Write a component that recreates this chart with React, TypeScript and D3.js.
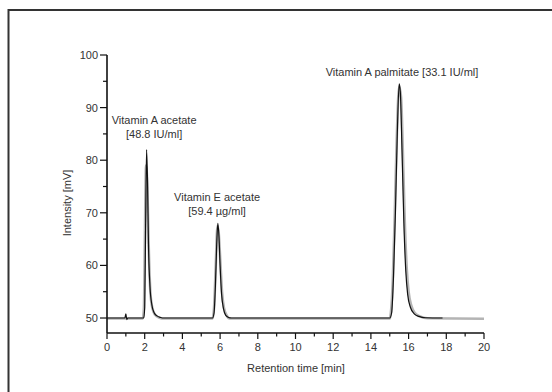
import React from "react";
import * as d3 from "d3";

// Chromatogram trace 1 (black): retention time [min] and intensity [mV]
const blackTime = [0, 0.95, 1.0, 1.05, 1.1, 1.95, 2.0, 2.05, 2.1, 2.15, 2.2, 2.28, 2.38, 2.5, 2.65, 2.85, 3.0,
  5.6, 5.68, 5.75, 5.82, 5.88, 5.94, 6.0, 6.08, 6.18, 6.3, 6.45, 6.6,
  15.0, 15.1, 15.2, 15.3, 15.4, 15.5, 15.56, 15.65, 15.75, 15.85, 15.95, 16.1, 16.3, 16.55, 16.9, 17.8];
const blackIntensity = [50, 50, 50.8, 49.7, 50, 50, 52, 68, 82, 76, 64, 56, 52.5, 51, 50.4, 50.1, 50,
  50, 51, 56, 64, 68, 65.5, 60, 54.5, 51.8, 50.5, 50.1, 50,
  50, 51, 58, 70, 85, 94.5, 93, 82, 68, 59, 54.5, 52, 50.8, 50.3, 50.05, 50];

// Chromatogram trace 2 (grey)
const greyTime = [0, 1.9, 1.96, 2.01, 2.07, 2.14, 2.21, 2.3, 2.4, 2.55, 2.75, 2.9,
  5.6, 5.68, 5.76, 5.86, 5.93, 6.01, 6.1, 6.2, 6.35, 6.5,
  15.0, 15.06, 15.16, 15.26, 15.37, 15.5, 15.6, 15.7, 15.8, 15.9, 16.0, 16.14, 16.32, 16.6, 17.0, 20.0];
const greyIntensity = [49.9, 49.9, 52, 65, 79, 75, 64, 55, 52, 50.6, 50.1, 49.9,
  49.9, 52, 59, 67.5, 66, 61, 55, 52, 50.5, 49.9,
  49.9, 51, 57, 69, 84, 94, 92, 81, 68, 59.5, 55, 52.4, 51, 50.3, 49.95, 49.85];

const xMajorTicks = [0, 2, 4, 6, 8, 10, 12, 14, 16, 18, 20];
const xMinorTicks = [1, 3, 5, 7, 9, 11, 13, 15, 17, 19];
const yMajorTicks = [50, 60, 70, 80, 90, 100];
const yMinorTicks = [55, 65, 75, 85, 95];

const annotations = [
  { lines: ["Vitamin A acetate", "[48.8 IU/ml]"], t: 2.5, v: 86.9 },
  { lines: ["Vitamin E acetate", "[59.4 \u00b5g/ml]"], t: 5.84, v: 72.25 },
  { lines: ["Vitamin A palmitate [33.1 IU/ml]"], t: 15.65, v: 96.0 },
];

const FONT = "'Liberation Sans', Arial, sans-serif";
const FS = 11;

export default function App() {
  const x = d3.scaleLinear().domain([0, 20]).range([107, 484]);
  const y = d3.scaleLinear().domain([47.15, 100]).range([333, 55]);
  const mk = (ts: number[], vs: number[]) =>
    d3
      .line<number>()
      .x((t) => x(t))
      .y((_, i) => y(vs[i]))
      .curve(d3.curveMonotoneX)(ts) || "";
  const y0 = y.range()[0];
  return (
    <svg
      width={552}
      height={392}
      style={{ position: "absolute", left: 0, top: 0, background: "#fff" }}
      fontFamily={FONT}
    >
      {/* frame */}
      <path d="M8.5,392 V10 H552" fill="none" stroke="#333" strokeWidth={2} />

      {/* traces */}
      <path d={mk(greyTime, greyIntensity)} fill="none" stroke="#b4b4b4" strokeWidth={2.6} />
      <path d={mk(blackTime, blackIntensity)} fill="none" stroke="#111" strokeWidth={1.2} />

      {/* axes */}
      <line x1={x(0)} x2={x(0)} y1={y(100)} y2={y0} stroke="#111" strokeWidth={1.6} />
      <line x1={x(0)} x2={x(20)} y1={y0} y2={y0} stroke="#111" strokeWidth={1.6} />
      {yMajorTicks.map((v) => (
        <g key={"ym" + v}>
          <line x1={x(0) - 7} x2={x(0)} y1={y(v)} y2={y(v)} stroke="#111" strokeWidth={1.2} />
          <text x={x(0) - 9} y={y(v) + 4} textAnchor="end" fontSize={FS} fill="#333">
            {v}
          </text>
        </g>
      ))}
      {yMinorTicks.map((v) => (
        <line key={"yn" + v} x1={x(0) - 4} x2={x(0)} y1={y(v)} y2={y(v)} stroke="#111" strokeWidth={1.2} />
      ))}
      {xMajorTicks.map((t) => (
        <g key={"xm" + t}>
          <line x1={x(t)} x2={x(t)} y1={y0} y2={y0 + 6} stroke="#111" strokeWidth={1.2} />
          <text x={x(t)} y={y0 + 18} textAnchor="middle" fontSize={FS} fill="#333">
            {t}
          </text>
        </g>
      ))}
      {xMinorTicks.map((t) => (
        <line key={"xn" + t} x1={x(t)} x2={x(t)} y1={y0} y2={y0 + 3.5} stroke="#111" strokeWidth={1.2} />
      ))}

      {/* axis titles */}
      <text x={296} y={372} textAnchor="middle" fontSize={FS} fill="#333">
        Retention time [min]
      </text>
      <text transform="translate(71,203) rotate(-90)" textAnchor="middle" fontSize={FS} fill="#333">
        Intensity [mV]
      </text>

      {/* peak annotations */}
      {annotations.map((a, k) => (
        <text key={k} x={x(a.t)} y={y(a.v)} textAnchor="middle" fontSize={FS} fill="#333">
          {a.lines.map((l, i) => (
            <tspan key={i} x={x(a.t)} dy={i === 0 ? 0 : 14}>
              {l}
            </tspan>
          ))}
        </text>
      ))}
    </svg>
  );
}
